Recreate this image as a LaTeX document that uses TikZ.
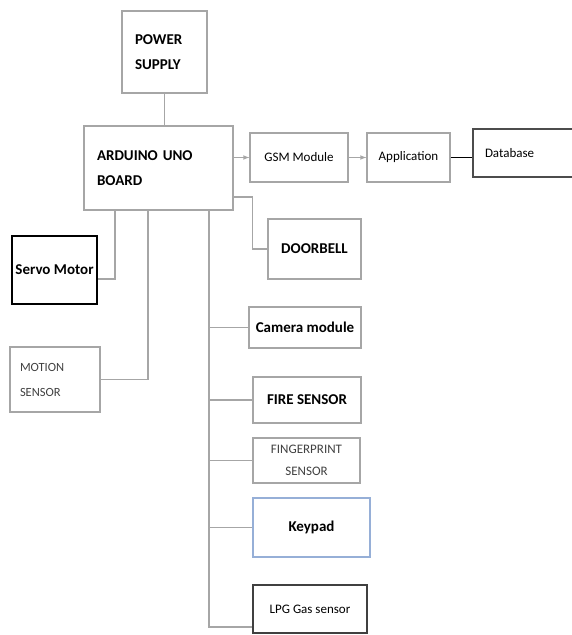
\documentclass[tikz,border=0pt]{standalone}
\usepackage{fontspec}
\setmainfont{Carlito}
\usepackage{tikz}

\begin{document}
\begin{tikzpicture}[x=1pt, y=-1pt,
  box/.style={shape=rectangle, draw=gray!70, line width=1.2pt, inner sep=0pt},
  big/.style={font=\bfseries\fontsize{15}{25}\selectfont},
  plain/.style={font=\fontsize{13}{15}\selectfont},
  tiny/.style={font=\fontsize{12.5}{25}\selectfont, text=black!75},
  wire/.style={draw=gray!70, line width=1.1pt}]
\useasboundingbox (0,0) rectangle (571,635);

\node[box, big, minimum width=85, minimum height=82, inner xsep=13pt, text width=59, align=left] (PS) at (164.5,52) {POWER\\SUPPLY};
\node[box, big, minimum width=149, minimum height=84, inner xsep=13pt, text width=123, align=left] (ARD) at (158.5,168) {ARDUINO UNO\\BOARD};
\node[box, plain, minimum width=98, minimum height=49] (GSM) at (299,157.5) {GSM Module};
\node[box, plain, minimum width=83, minimum height=49] (APP) at (408.5,157.5) {Application};
\node[box, plain, draw=black!70, line width=1.6pt, minimum width=105, minimum height=48, inner xsep=12pt, text width=81, align=left] (DB) at (525.5,153) {Database};
\node[box, big, minimum width=93, minimum height=60] (DOOR) at (314.5,249) {DOORBELL};
\node[box, big, draw=black, line width=2pt, minimum width=85, minimum height=68] (SERVO) at (54.5,270) {Servo Motor};
\node[box, tiny, minimum width=90, minimum height=65, inner xsep=10pt, text width=70, align=left] (MOT) at (55,379.5) {MOTION\\SENSOR};
\node[box, big, minimum width=112, minimum height=41] (CAM) at (305,327.5) {Camera module};
\node[box, big, minimum width=108, minimum height=46] (FIRE) at (307,400) {FIRE SENSOR};
\node[box, tiny, minimum width=107, minimum height=45, align=center, font=\fontsize{13}{22}\selectfont] (FP) at (306.5,460.5) {FINGERPRINT\\SENSOR};
\node[box, big, draw={rgb,255:red,150;green,175;blue,215}, minimum width=117, minimum height=59] (KEY) at (311.5,527.5) {Keypad};
\node[box, plain, draw=black!75, line width=1.3pt, minimum width=114, minimum height=48] (LPG) at (310,609) {LPG Gas sensor};

\draw[wire] (PS.south) -- (PS.south |- ARD.north);
\draw[wire, -latex] (ARD.east |- GSM.west) -- (GSM.west);
\draw[wire, -latex] (GSM) -- (APP);
\draw[black, line width=0.8pt] (APP.east) -- (APP.east -| DB.west);
\draw[wire] ([yshift=-29pt]ARD.east) -- ++(19,0) |- (DOOR.west);
\draw[wire] ([xshift=-43.5pt]ARD.south) |- ([yshift=-9pt]SERVO.east);
\draw[wire] ([xshift=-10.5pt]ARD.south) |- (MOT.east);

\coordinate (BUS) at ([xshift=50.5pt]ARD.south);
\draw[wire] (BUS) |- ([yshift=-18pt]LPG.west);
\draw[wire] (BUS |- CAM.west) -- (CAM.west);
\draw[wire] (BUS |- FIRE.west) -- (FIRE.west);
\draw[wire] (BUS |- FP.west) -- (FP.west);
\draw[wire] (BUS |- KEY.west) -- (KEY.west);
\end{tikzpicture}
\end{document}
